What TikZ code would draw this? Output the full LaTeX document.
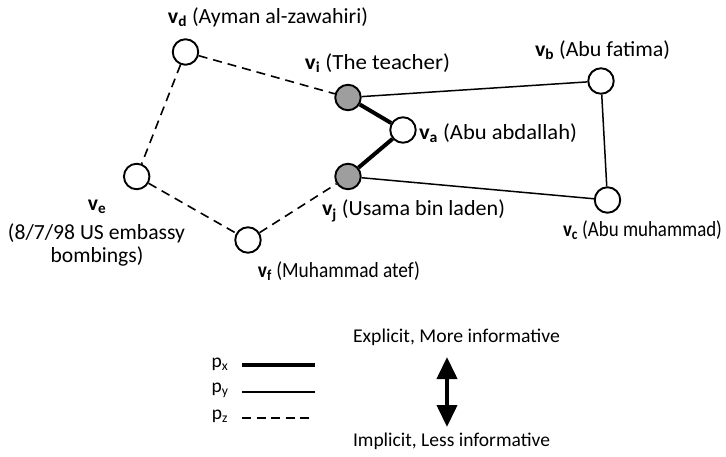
\documentclass[tikz,border=0pt]{standalone}
\usepackage{fontspec}
\usepackage{graphicx}
\setmainfont{Carlito}
\usetikzlibrary{arrows.meta}
\newcommand\fitw[2]{\resizebox{#1}{\height}{#2}}
\begin{document}
\begin{tikzpicture}[x=1pt,y=-1pt,
  vert/.style={circle,draw=black,line width=1.9pt,fill=white,minimum size=25.5pt,inner sep=0pt},
  gvert/.style={vert,fill=black!38},
  lbl/.style={font=\fontsize{21.6}{26}\selectfont,inner sep=0pt},
  leg/.style={font=\fontsize{19.5}{23}\selectfont,inner sep=0pt},
  ex/.style={line width=4pt},
  ey/.style={line width=1.5pt},
  ez/.style={line width=1.6pt,dash pattern=on 9pt off 6pt}]
\useasboundingbox (0,0) rectangle (726,457);
% vertices
\node[vert]  (vd) at (185.5,52) {};
\node[gvert] (vi) at (348,97.5) {};
\node[vert]  (va) at (403,130) {};
\node[gvert] (vj) at (348,176.5) {};
\node[vert]  (vb) at (601,81) {};
\node[vert]  (vc) at (607.5,200) {};
\node[vert]  (ve) at (136.7,176.5) {};
\node[vert]  (vf) at (248,240) {};
% edges
\draw[ez] (vd) -- (vi);
\draw[ez] (vd) -- (ve);
\draw[ez] (ve) -- (vf);
\draw[ez] (vf) -- (vj);
\draw[ex] (vi) -- (va);
\draw[ex] (va) -- (vj);
\draw[ey] (vi) -- (vb);
\draw[ey] (vb) -- (vc);
\draw[ey] (vc) -- (vj);
% labels
\node[lbl] (ld) at (268,17) {\fitw{200pt}{\textbf{v\textsubscript{d}} (Ayman al-zawahiri)}};
\node[lbl] (li) at (377.5,63) {\fitw{145pt}{\textbf{v\textsubscript{i}} (The teacher)}};
\node[lbl] (lb) at (602.5,50) {\fitw{135pt}{\textbf{v\textsubscript{b}} (Abu fatima)}};
\node[lbl] (la) at (498,133) {\fitw{158pt}{\textbf{v\textsubscript{a}} (Abu abdallah)}};
\node[lbl] (lj) at (413.5,211) {\fitw{183pt}{\textbf{v\textsubscript{j}} (Usama bin laden)}};
\node[lbl] (lc) at (642.5,230) {\fitw{159pt}{\textbf{v\textsubscript{c}} (Abu muhammad)}};
\node[lbl] (le) at (97,207) {\textbf{v\textsubscript{e}}};
\node[lbl] (le2) at (96.5,233) {\fitw{177pt}{(8/7/98 US embassy}};
\node[lbl] (le3) at (97,256) {bombings)};
\node[lbl] (lf) at (339,271) {\fitw{162pt}{\textbf{v\textsubscript{f}} (Muhammad atef)}};
% legend
\node[leg] (px) at (220,364) {p\textsubscript{x}};
\node[leg] (py) at (220,390) {p\textsubscript{y}};
\node[leg] (pz) at (220,416) {p\textsubscript{z}};
\coordinate (x1) at (242,365); \coordinate (x2) at (315,365);
\coordinate (y1) at (242,392); \coordinate (y2) at (315,392);
\coordinate (z1) at (242,418); \coordinate (z2) at (312,418);
\draw[line width=4.5pt] (x1) -- (x2);
\draw[line width=2.2pt] (y1) -- (y2);
\draw[line width=2.2pt,dash pattern=on 9pt off 5.5pt] (z1) -- (z2);
\node[leg] (expl) at (456.5,337) {\fitw{207pt}{Explicit, More informative}};
\node[leg] (impl) at (451.5,441) {\fitw{197pt}{Implicit, Less informative}};
\coordinate (at) at (447,357);
\coordinate (ab) at (447,427);
\draw[line width=4pt,{Triangle[width=20pt,length=22pt]}-{Triangle[width=20pt,length=22pt]}] (at) -- (ab);
\end{tikzpicture}
\end{document}
